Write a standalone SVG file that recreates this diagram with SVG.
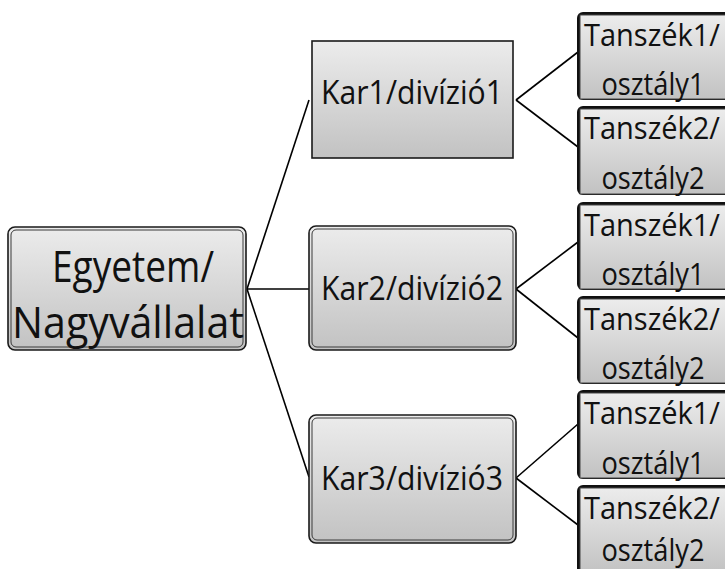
<svg xmlns="http://www.w3.org/2000/svg" width="725" height="569" viewBox="0 0 725 569">
  <defs>
    <linearGradient id="boxFill" x1="0" y1="0" x2="0" y2="1">
      <stop offset="0" stop-color="#ececec"/>
      <stop offset="1" stop-color="#c2c2c2"/>
    </linearGradient>
    <style>
      .txt { font-family: "Open Sans", "Noto Sans", "Liberation Sans", sans-serif; fill: #111; text-anchor: middle; }
      .big { font-size: 44px; }
      .mid { font-size: 32px; }
      .small { font-size: 31px; }
      .outer { fill: url(#boxFill); stroke: #1a1a1a; stroke-width: 1.6; }
      .inner { fill: none; stroke: #3a3a3a; stroke-width: 1; }
      .plain { fill: url(#boxFill); stroke: #1a1a1a; stroke-width: 1.6; }
      .shade { fill: #111; }
      .face { fill: url(#boxFill); stroke: #444; stroke-width: 1; }
      .conn { stroke: #000; stroke-width: 1.6; fill: none; }
    </style>
  </defs>
  <rect width="725" height="569" fill="#fff"/>

  <!-- connectors -->
  <g id="connectors">
    <line class="conn" x1="247" y1="289" x2="309" y2="100"/>
    <line class="conn" x1="247" y1="289" x2="309" y2="289"/>
    <line class="conn" x1="247" y1="289" x2="309" y2="477"/>
    <line class="conn" x1="516" y1="100" x2="578" y2="52"/>
    <line class="conn" x1="516" y1="100" x2="578" y2="147"/>
    <line class="conn" x1="516" y1="289" x2="578" y2="242"/>
    <line class="conn" x1="516" y1="289" x2="578" y2="338"/>
    <line class="conn" x1="516" y1="478" x2="578" y2="424"/>
    <line class="conn" x1="516" y1="478" x2="578" y2="525"/>
  </g>

  <!-- root -->
  <g id="root">
    <rect class="outer" x="8" y="227" width="238" height="123" rx="7"/>
    <rect class="inner" x="11" y="230" width="232" height="117" rx="5"/>
    <text class="txt big" x="133" y="282" textLength="162" lengthAdjust="spacingAndGlyphs">Egyetem/</text>
    <text class="txt big" x="128" y="338" textLength="232" lengthAdjust="spacingAndGlyphs">Nagyvállalat</text>
  </g>

  <!-- level 2 -->
  <g id="kar1">
    <rect class="plain" x="312" y="41" width="201" height="117"/>
    <text class="txt mid" x="412" y="104" textLength="182" lengthAdjust="spacingAndGlyphs">Kar1/divízió1</text>
  </g>
  <g id="kar2">
    <rect class="outer" x="309" y="226" width="207" height="124" rx="7"/>
    <rect class="inner" x="312" y="229" width="201" height="118" rx="5"/>
    <text class="txt mid" x="412" y="300" textLength="182" lengthAdjust="spacingAndGlyphs">Kar2/divízió2</text>
  </g>
  <g id="kar3">
    <rect class="outer" x="309" y="415" width="207" height="128" rx="7"/>
    <rect class="inner" x="312" y="418" width="201" height="122" rx="5"/>
    <text class="txt mid" x="412" y="490" textLength="182" lengthAdjust="spacingAndGlyphs">Kar3/divízió3</text>
  </g>

  <!-- level 3 -->
  <g id="t1a">
    <rect class="shade" x="577" y="12" width="160" height="88" rx="6"/>
    <rect class="face" x="580" y="15" width="157" height="84"/>
    <text class="txt small" x="652" y="46" textLength="136" lengthAdjust="spacingAndGlyphs">Tanszék1/</text>
    <text class="txt small" x="653" y="95" textLength="103" lengthAdjust="spacingAndGlyphs">osztály1</text>
  </g>
  <g id="t1b">
    <rect class="shade" x="577" y="106" width="160" height="89" rx="6"/>
    <rect class="face" x="580" y="109" width="157" height="85"/>
    <text class="txt small" x="652" y="139" textLength="136" lengthAdjust="spacingAndGlyphs">Tanszék2/</text>
    <text class="txt small" x="653" y="189" textLength="103" lengthAdjust="spacingAndGlyphs">osztály2</text>
  </g>
  <g id="t2a">
    <rect class="shade" x="577" y="202" width="160" height="88" rx="6"/>
    <rect class="face" x="580" y="205" width="157" height="84"/>
    <text class="txt small" x="652" y="236" textLength="136" lengthAdjust="spacingAndGlyphs">Tanszék1/</text>
    <text class="txt small" x="653" y="285" textLength="103" lengthAdjust="spacingAndGlyphs">osztály1</text>
  </g>
  <g id="t2b">
    <rect class="shade" x="577" y="296" width="160" height="88" rx="6"/>
    <rect class="face" x="580" y="299" width="157" height="84"/>
    <text class="txt small" x="652" y="330" textLength="136" lengthAdjust="spacingAndGlyphs">Tanszék2/</text>
    <text class="txt small" x="653" y="379" textLength="103" lengthAdjust="spacingAndGlyphs">osztály2</text>
  </g>
  <g id="t3a">
    <rect class="shade" x="577" y="390" width="160" height="89" rx="6"/>
    <rect class="face" x="580" y="393" width="157" height="85"/>
    <text class="txt small" x="652" y="424" textLength="136" lengthAdjust="spacingAndGlyphs">Tanszék1/</text>
    <text class="txt small" x="653" y="474" textLength="103" lengthAdjust="spacingAndGlyphs">osztály1</text>
  </g>
  <g id="t3b">
    <rect class="shade" x="577" y="485" width="160" height="90" rx="6"/>
    <rect class="face" x="580" y="488" width="157" height="86"/>
    <text class="txt small" x="652" y="519" textLength="136" lengthAdjust="spacingAndGlyphs">Tanszék2/</text>
    <text class="txt small" x="653" y="561" textLength="103" lengthAdjust="spacingAndGlyphs">osztály2</text>
  </g>
</svg>
